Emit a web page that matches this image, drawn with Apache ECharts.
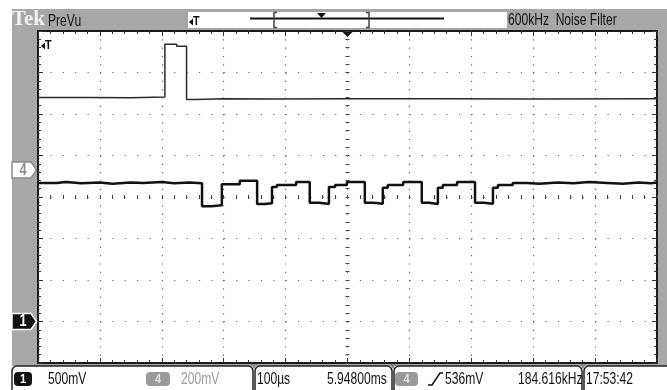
<!DOCTYPE html>
<html><head><meta charset="utf-8">
<script src="https://cdn.jsdelivr.net/npm/echarts@6/dist/echarts.min.js"></script>
<style>html,body{margin:0;padding:0;background:#fff}#c{width:667px;height:390px}</style>
</head><body><div id="c"></div>
<script>
// ---- data (time in microseconds, vertical in screen divisions, centre = 0) ----
const ch1Time  = [-500, -420, -350, -295, -276, -260, -245, -200, -120, 0, 150, 300, 500];
const ch1Level = [2.40, 2.39, 2.41, 3.68, 3.63, 2.35, 2.37, 2.36, 2.37, 2.37, 2.36, 2.37, 2.37];
const ch4Time  = [-500, -470, -455, -430, -400, -380, -350, -330, -300, -280, -255,
                  -235, -220, -203, -174, -146, -134, -122, -114, -83, -61, -45, -30, -20, -1,
                  28, 42, 57, 65, 90, 120, 132, 146, 154, 177, 206, 220, 235, 243,
                  267, 290, 310, 340, 365, 390, 420, 445, 470, 490, 500];
const ch4Level = [0.34, 0.36, 0.33, 0.35, 0.32, 0.35, 0.34, 0.36, 0.33, 0.35, 0.33,
                  -0.22, -0.20, 0.31, 0.39, -0.17, -0.15, 0.24, 0.29, 0.36, -0.14, -0.17, 0.24, 0.29, 0.36,
                  -0.14, -0.16, 0.22, 0.29, 0.36, -0.14, -0.17, 0.22, 0.29, 0.36, -0.14, -0.16, 0.22, 0.29,
                  0.34, 0.32, 0.35, 0.33, 0.36, 0.34, 0.32, 0.35, 0.33, 0.35, 0.35];
const groundMarks = [-3.0, 0.65];          // ch1, ch4 ground level markers
const triggerTime = [0];
const timeRange = [-500, 500];              // 100 us / div
const vertRange = [-4, 4];
const topTexts = ['Tek', 'PreVu', '600kHz  Noise Filter'];
const statusTexts = ['1', '500mV', '4', '200mV', '100\u00b5s', '5.94800ms', '4', '536mV', '184.616kHz', '17:53:42'];

const chart = echarts.init(document.getElementById('c'));
const FONT = '"Liberation Sans", Arial, sans-serif';
const GRAY = '#a7a7a7';
const DOT = '#6a6a6a';

function pairs(t, v) { return t.map((x, i) => [x, v[i]]); }

function edgeX(pos) {
  return {
    type: 'value', min: timeRange[0], max: timeRange[1], interval: 100, position: pos,
    axisLine: { onZero: false, lineStyle: { color: '#1a1a1a', width: 2 } },
    axisTick: { show: true, inside: true, length: 5, lineStyle: { color: '#333', width: 1 } },
    minorTick: { show: true, splitNumber: 5, length: 3, lineStyle: { color: '#333', width: 1 } },
    axisLabel: { show: false },
    splitLine: { show: pos === 'bottom', lineStyle: { color: DOT, width: 1.2, type: [1.2, 7.1] } }
  };
}
function edgeY(pos) {
  return {
    type: 'value', min: vertRange[0], max: vertRange[1], interval: 1, position: pos,
    axisLine: { onZero: false, lineStyle: { color: '#1a1a1a', width: 2 } },
    axisTick: { show: true, inside: true, length: 5, lineStyle: { color: '#333', width: 1 } },
    minorTick: { show: true, splitNumber: 5, length: 3, lineStyle: { color: '#333', width: 1 } },
    axisLabel: { show: false },
    splitLine: { show: pos === 'left', lineStyle: { color: DOT, width: 1.2, type: [1.2, 11.18] } }
  };
}
function centreX(inside) {
  return {
    type: 'value', min: timeRange[0], max: timeRange[1], interval: 100, position: 'bottom',
    axisLine: { show: true, onZero: true, onZeroAxisIndex: 0, lineStyle: { color: 'rgba(0,0,0,0)', width: 0 } },
    axisTick: { show: true, inside: inside, length: 2, lineStyle: { color: '#444' } },
    minorTick: { show: true, splitNumber: 5, length: 2, lineStyle: { color: '#444' } },
    axisLabel: { show: false }, splitLine: { show: false }
  };
}
function centreY(inside) {
  return {
    type: 'value', min: vertRange[0], max: vertRange[1], interval: 1, position: 'left',
    axisLine: { show: true, onZero: true, onZeroAxisIndex: 0, lineStyle: { color: 'rgba(0,0,0,0)', width: 0 } },
    axisTick: { show: true, inside: inside, length: 2, lineStyle: { color: '#444' } },
    minorTick: { show: true, splitNumber: 5, length: 2, lineStyle: { color: '#444' } },
    axisLabel: { show: false }, splitLine: { show: false }
  };
}

chart.setOption({
  animation: false,
  backgroundColor: '#fff',
  grid: { left: 38, right: 10, top: 31, bottom: 27, show: true, backgroundColor: '#fff', borderWidth: 0 },
  xAxis: [edgeX('bottom'), edgeX('top'), centreX(true), centreX(false)],
  yAxis: [edgeY('left'), edgeY('right'), centreY(true), centreY(false)],
  series: [
    { type: 'line', name: 'CH1', step: 'end', showSymbol: false, symbol: 'none', xAxisIndex: 0, yAxisIndex: 0,
      lineStyle: { color: '#2a2a2a', width: 1.5 }, data: pairs(ch1Time, ch1Level), z: 5 },
    { type: 'line', name: 'CH4', step: 'end', showSymbol: false, symbol: 'none', xAxisIndex: 0, yAxisIndex: 0,
      lineStyle: { color: '#111', width: 2.5 }, data: pairs(ch4Time, ch4Level), z: 6 }
  ]
});

function txt(x, y, text, o) {
  o = o || {};
  return { type: 'text', x: x, y: y, scaleX: o.sx == null ? 0.71 : o.sx, z: 20,
    style: { text: text, font: (o.weight || 'normal') + ' ' + (o.size || 17) + 'px ' + (o.family || FONT),
      fill: o.fill || '#111', align: o.align || 'left', verticalAlign: 'middle' } };
}
function rect(x, y, w, h, fill, o) {
  o = o || {};
  return { type: 'rect', z: o.z == null ? 15 : o.z, shape: { x: x, y: y, width: w, height: h, r: o.r || 0 },
    style: { fill: fill, stroke: o.stroke || null, lineWidth: o.lw || 0 } };
}

const y1 = chart.convertToPixel({ yAxisIndex: 0 }, groundMarks[0]);
const y4 = chart.convertToPixel({ yAxisIndex: 0 }, groundMarks[1]);
const xT = chart.convertToPixel({ xAxisIndex: 0 }, triggerTime[0]);
const gTop = chart.convertToPixel({ yAxisIndex: 0 }, vertRange[1]);
const gLeft = chart.convertToPixel({ xAxisIndex: 0 }, timeRange[0]);

function marker(yc, fill, stroke, label, labelFill) {
  const pts = [[12, yc - 8], [31, yc - 8], [36.5, yc], [31, yc + 8], [12, yc + 8]];
  return [
    { type: 'polygon', z: 18, shape: { points: pts }, style: { fill: fill, stroke: stroke, lineWidth: 1.5 } },
    txt(23, yc + 0.5, label, { fill: labelFill, size: 16, weight: 'bold', align: 'center', sx: 0.8 })
  ];
}
function tIcon(x, y) {
  return [
    { type: 'polygon', z: 20, shape: { points: [[x, y], [x + 4, y - 3.5], [x + 4, y + 3.5]] }, style: { fill: '#111' } },
    txt(x + 4, y, 'T', { size: 12, weight: 'bold', sx: 0.9 })
  ];
}

const g = [
  rect(12, 9, 655, 357, GRAY, { z: -10 }),
  // top bar
  txt(12, 19.5, topTexts[0], { family: '"Liberation Serif", serif', weight: 'bold', size: 22, fill: '#f2f2f2', sx: 0.95 }),
  txt(48, 21, topTexts[1]),
  rect(188, 12, 319, 16, '#fff'),
  { type: 'line', z: 18, shape: { x1: 250, y1: 18.5, x2: 444, y2: 18.5 }, style: { stroke: '#111', lineWidth: 2 } },
  { type: 'polyline', z: 18, shape: { points: [[277, 12.5], [274, 12.5], [274, 27.5], [277, 27.5]] }, style: { stroke: '#444', lineWidth: 1.5, fill: null } },
  { type: 'polyline', z: 18, shape: { points: [[366, 12.5], [369, 12.5], [369, 27.5], [366, 27.5]] }, style: { stroke: '#444', lineWidth: 1.5, fill: null } },
  { type: 'polygon', z: 19, shape: { points: [[317, 13], [326, 13], [321.5, 18]] }, style: { fill: '#111' } },
  ...tIcon(189, 22),
  txt(508, 20, topTexts[2]),
  // trigger position on graticule
  { type: 'polygon', z: 20, shape: { points: [[xT - 5, gTop + 1], [xT + 5, gTop + 1], [xT, gTop + 6]] }, style: { fill: '#111' } },
  ...tIcon(gLeft + 3, gTop + 15),
  // ground markers
  ...marker(y4, '#fff', '#8a8a8a', '4', '#8f8f8f'),
  ...marker(y1, '#111', '#fff', '1', '#fff'),
  // status bar
  rect(12, 366, 241, 30, '#fff', { stroke: '#222', lw: 1.5, r: [5, 5, 0, 0], z: 12 }),
  rect(255, 366, 137, 30, '#fff', { stroke: '#222', lw: 1.5, r: [5, 5, 0, 0], z: 12 }),
  rect(394, 366, 188, 30, '#fff', { stroke: '#222', lw: 1.5, r: [5, 5, 0, 0], z: 12 }),
  rect(584, 366, 95, 30, '#fff', { stroke: '#222', lw: 1.5, r: [5, 5, 0, 0], z: 12 }),
  { type: 'polygon', z: 19, shape: { points: [[250.5, 364], [257.5, 364], [254, 369]] }, style: { fill: '#8a8a8a' } },
  { type: 'polygon', z: 19, shape: { points: [[389.5, 364], [396.5, 364], [393, 369]] }, style: { fill: '#8a8a8a' } },
  { type: 'polygon', z: 19, shape: { points: [[579.5, 364], [586.5, 364], [583, 369]] }, style: { fill: '#8a8a8a' } },
  rect(14, 372, 18, 14, '#111', { r: 4, z: 16 }),
  txt(23, 379.5, statusTexts[0], { fill: '#fff', size: 13, weight: 'bold', align: 'center', sx: 0.85 }),
  txt(48, 379, statusTexts[1]),
  rect(146, 372, 24, 14, '#9a9a9a', { r: 4, z: 16 }),
  txt(158, 379.5, statusTexts[2], { fill: '#e2e2e2', size: 13, weight: 'bold', align: 'center', sx: 0.85 }),
  txt(181, 379, statusTexts[3], { fill: '#9a9a9a' }),
  txt(257, 379, statusTexts[4]),
  txt(327, 379, statusTexts[5]),
  rect(395, 372, 23, 14, '#9a9a9a', { r: 4, z: 16 }),
  txt(406.5, 379.5, statusTexts[6], { fill: '#e2e2e2', size: 13, weight: 'bold', align: 'center', sx: 0.85 }),
  { type: 'polyline', z: 20, shape: { points: [[428, 385], [432, 385], [440, 373], [443, 373]] }, style: { stroke: '#111', lineWidth: 1.5, fill: null } },
  txt(445, 379, statusTexts[7]),
  txt(518, 379, statusTexts[8]),
  txt(586, 379, statusTexts[9])
];
chart.setOption({ graphic: { elements: g } });
</script></body></html>
